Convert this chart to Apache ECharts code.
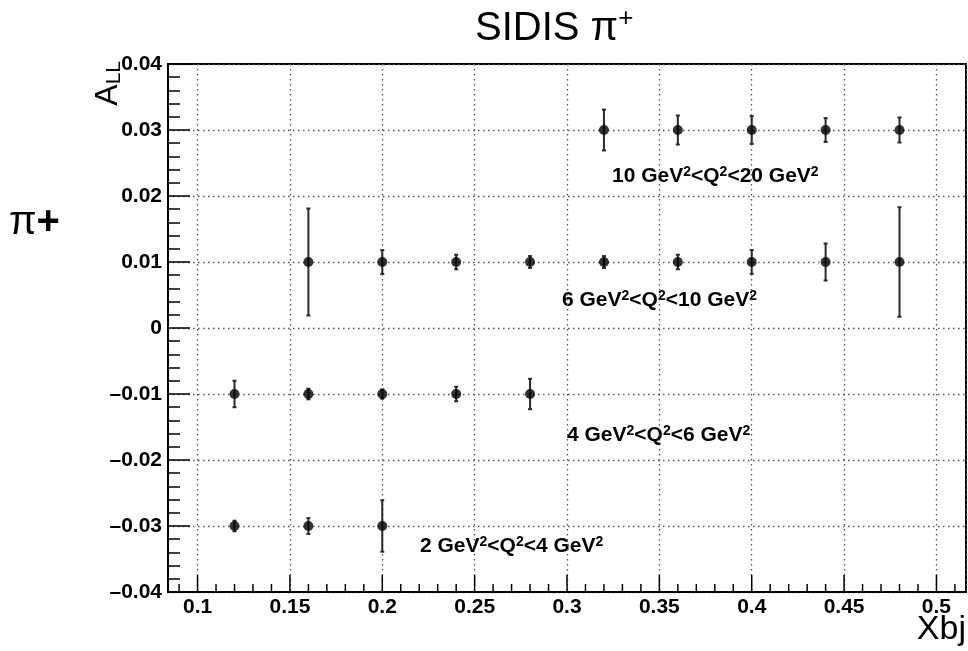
<!DOCTYPE html>
<html>
<head>
<meta charset="utf-8">
<script src="https://cdn.jsdelivr.net/npm/echarts@6/dist/echarts.min.js"></script>
<style>
  html, body { margin: 0; padding: 0; background: #fff; }
  #chart { width: 968px; height: 651px; }
</style>
</head>
<body>
<div id="chart"></div>
<script>
// axis ranges
const xMin = 0.084, xMax = 0.516;
const yMin = -0.04, yMax = 0.04;

// tick positions along Xbj (drawn inward, ROOT style)
const xMajorTicks = [0.1, 0.15, 0.2, 0.25, 0.3, 0.35, 0.4, 0.45, 0.5];
const xMinorTicks = [0.09, 0.11, 0.12, 0.13, 0.14, 0.16, 0.17, 0.18, 0.19,
  0.21, 0.22, 0.23, 0.24, 0.26, 0.27, 0.28, 0.29, 0.31, 0.32, 0.33, 0.34,
  0.36, 0.37, 0.38, 0.39, 0.41, 0.42, 0.43, 0.44, 0.46, 0.47, 0.48, 0.49, 0.51];

// 2 GeV2 < Q2 < 4 GeV2
const xQ2a = [0.12, 0.16, 0.20];
const yQ2a = [-0.03, -0.03, -0.03];
const eQ2a = [0.0008, 0.0012, 0.0039];
// 4 GeV2 < Q2 < 6 GeV2
const xQ2b = [0.12, 0.16, 0.20, 0.24, 0.28];
const yQ2b = [-0.01, -0.01, -0.01, -0.01, -0.01];
const eQ2b = [0.0020, 0.0008, 0.0007, 0.0011, 0.0023];
// 6 GeV2 < Q2 < 10 GeV2
const xQ2c = [0.16, 0.20, 0.24, 0.28, 0.32, 0.36, 0.40, 0.44, 0.48];
const yQ2c = [0.01, 0.01, 0.01, 0.01, 0.01, 0.01, 0.01, 0.01, 0.01];
const eQ2c = [0.0081, 0.0018, 0.0011, 0.0009, 0.0009, 0.0011, 0.0018, 0.0028, 0.0083];
// 10 GeV2 < Q2 < 20 GeV2
const xQ2d = [0.32, 0.36, 0.40, 0.44, 0.48];
const yQ2d = [0.03, 0.03, 0.03, 0.03, 0.03];
const eQ2d = [0.0031, 0.0022, 0.0021, 0.0018, 0.0019];

const bins = [
  {x: xQ2a, y: yQ2a, e: eQ2a},
  {x: xQ2b, y: yQ2b, e: eQ2b},
  {x: xQ2c, y: yQ2c, e: eQ2c},
  {x: xQ2d, y: yQ2d, e: eQ2d},
];

const font = '"Liberation Sans", Arial, Helvetica, sans-serif';
const dotted = {color: '#555', width: 1.3, type: [1.5, 3.5]};

function fmtNum (v) {
  if (Math.abs(v) < 1e-9) return '0';
  const s = String(+v.toFixed(3));
  return s.replace('-', '\u2013');
}

function errorBars (params, api) {
  const x = api.value(0), y = api.value(1), e = api.value(2);
  const top = api.coord([x, y + e]);
  const bot = api.coord([x, y - e]);
  const st = {stroke: '#2a2a2a', lineWidth: 2};
  return {
    type: 'group',
    children: [
      {type: 'line', shape: {x1: top[0], y1: top[1], x2: bot[0], y2: bot[1]}, style: st},
      {type: 'line', shape: {x1: top[0] - 2, y1: top[1], x2: top[0] + 2, y2: top[1]}, style: st},
      {type: 'line', shape: {x1: bot[0] - 2, y1: bot[1], x2: bot[0] + 2, y2: bot[1]}, style: st},
    ]
  };
}

function xTicks (len) {
  return function (params, api) {
    const p = api.coord([api.value(0), yMin]);
    return {
      type: 'line',
      shape: {x1: p[0], y1: p[1], x2: p[0], y2: p[1] - len},
      style: {stroke: '#000', lineWidth: 1.5}
    };
  };
}

const series = [];
bins.forEach(b => {
  series.push({
    type: 'custom',
    renderItem: errorBars,
    data: b.x.map((v, i) => [v, b.y[i], b.e[i]]),
    encode: {x: 0, y: 1},
    z: 3,
  });
  series.push({
    type: 'scatter',
    data: b.x.map((v, i) => [v, b.y[i]]),
    symbol: 'circle',
    symbolSize: 10,
    itemStyle: {color: '#000'},
    z: 4,
  });
});
series.push({type: 'custom', renderItem: xTicks(17), data: xMajorTicks.map(v => [v, yMin]), clip: false, z: 5, silent: true});
series.push({type: 'custom', renderItem: xTicks(8), data: xMinorTicks.map(v => [v, yMin]), clip: false, z: 5, silent: true});

const labelRich = {
  b: {fontFamily: font, fontWeight: 'bold', fontSize: 21, fill: '#000'},
  s: {fontFamily: font, fontWeight: 'bold', fontSize: 14, fill: '#000', verticalAlign: 'top', padding: [0, 0, 9, 0]}
};
function q2Label (txt, left, top) {
  return {
    type: 'text', left, top,
    style: {text: txt, rich: labelRich, font: 'bold 21px ' + font}
  };
}

const chart = echarts.init(document.getElementById('chart'));
chart.setOption({
  animation: false,
  backgroundColor: '#fff',
  grid: {left: 168, top: 64, right: 2, bottom: 59, show: true, borderColor: '#000', borderWidth: 2, containLabel: false},
  xAxis: {
    type: 'value', min: xMin, max: xMax,
    splitNumber: 8, minInterval: 0.05, maxInterval: 0.05,
    axisLine: {onZero: false, lineStyle: {color: '#000', width: 2}},
    axisTick: {show: false},
    minorTick: {show: false},
    splitLine: {show: true, lineStyle: dotted},
    axisLabel: {
      showMinLabel: false, showMaxLabel: false,
      color: '#000', fontFamily: font, fontWeight: 'bold', fontSize: 21, margin: 5,
      formatter: fmtNum
    }
  },
  yAxis: {
    type: 'value', min: yMin, max: yMax, interval: 0.01,
    axisLine: {lineStyle: {color: '#000', width: 2}},
    axisTick: {inside: true, length: 22, lineStyle: {color: '#000', width: 1.5}},
    minorTick: {show: true, splitNumber: 5, length: 12, lineStyle: {color: '#000', width: 1.5}},
    splitLine: {show: true, lineStyle: dotted},
    axisLabel: {
      color: '#000', fontFamily: font, fontWeight: 'bold', fontSize: 21, margin: 6,
      formatter: fmtNum
    }
  },
  graphic: [
    {
      type: 'text', left: 475, top: 6,
      style: {
        text: '{t|SIDIS π}{p|+}',
        rich: {
          t: {fontFamily: font, fontSize: 40, fill: '#000'},
          p: {fontFamily: font, fontSize: 26, fill: '#000', verticalAlign: 'top', padding: [0, 0, 20, 0]}
        }
      }
    },
    {
      type: 'text', left: 9, top: 203,
      style: {
        text: '{p|π}{q|+}',
        rich: {
          p: {fontFamily: font, fontSize: 40, fill: '#000'},
          q: {fontFamily: font, fontSize: 40, fontWeight: 'bold', fill: '#000'}
        }
      }
    },
    {
      type: 'text', x: 108, y: 61, rotation: Math.PI / 2,
      style: {
        text: '{a|A}{l|LL}', align: 'right', verticalAlign: 'middle',
        rich: {
          a: {fontFamily: font, fontSize: 32, fill: '#000'},
          l: {fontFamily: font, fontSize: 21, fill: '#000', verticalAlign: 'bottom', padding: [12, 0, 0, 0]}
        }
      }
    },
    {
      type: 'text', right: 2, top: 613,
      style: {text: 'Xbj', font: '34px ' + font, fill: '#000'}
    },
    q2Label('{b|10 GeV}{s|2}{b|<Q}{s|2}{b|<20 GeV}{s|2}', 612, 165),
    q2Label('{b|6 GeV}{s|2}{b|<Q}{s|2}{b|<10 GeV}{s|2}', 562, 289),
    q2Label('{b|4 GeV}{s|2}{b|<Q}{s|2}{b|<6 GeV}{s|2}', 567, 424),
    q2Label('{b|2 GeV}{s|2}{b|<Q}{s|2}{b|<4 GeV}{s|2}', 420, 535),
  ],
  series
});
</script>
</body>
</html>
